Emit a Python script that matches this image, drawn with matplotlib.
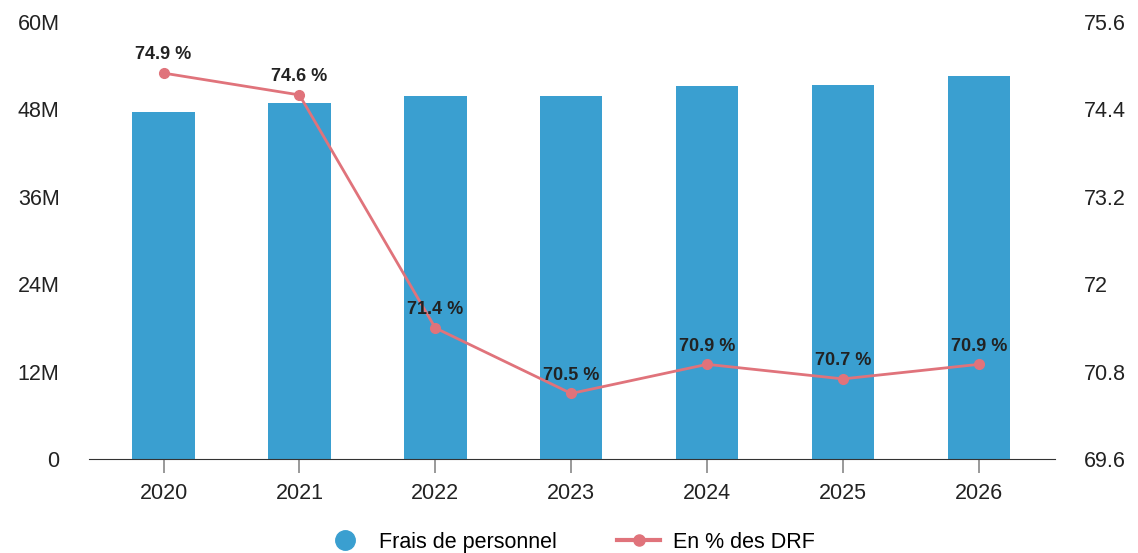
import matplotlib.pyplot as plt
from matplotlib.lines import Line2D

plt.rcParams['font.family'] = ['Liberation Sans', 'DejaVu Sans']

years = ['2020', '2021', '2022', '2023', '2024', '2025', '2026']
frais = [47.6e6, 48.9e6, 49.8e6, 49.8e6, 51.2e6, 51.3e6, 52.6e6]
pct_drf = [74.9, 74.6, 71.4, 70.5, 70.9, 70.7, 70.9]

bar_color = '#3a9fd0'
line_color = '#e0737b'

fig = plt.figure(figsize=(11.38, 5.53), dpi=100)
ax = fig.add_axes([0.078, 0.17, 0.849, 0.79])
x = list(range(len(years)))

ax.bar(x, frais, width=0.46, color=bar_color, zorder=2)
ax.set_ylim(0, 60e6)
ax.set_yticks([0, 12e6, 24e6, 36e6, 48e6, 60e6])
ax.set_yticklabels(['0', '12M', '24M', '36M', '48M', '60M'])
ax.set_xlim(-0.55, 6.56)
ax.set_xticks(x)
ax.set_xticklabels(years)
for s in ['top', 'right', 'left']:
    ax.spines[s].set_visible(False)
ax.spines['bottom'].set_color('#333333')
ax.tick_params(axis='y', length=0, pad=21, labelsize=15.5, labelcolor='#222222')
ax.tick_params(axis='x', length=10, width=1.2, color='#888888', pad=7, labelsize=15.5, labelcolor='#222222')

ax2 = ax.twinx()
ax2.plot(x, pct_drf, color=line_color, linewidth=2, marker='o', markersize=7, zorder=3)
ax2.set_ylim(69.6, 75.6)
ax2.set_yticks([69.6, 70.8, 72, 73.2, 74.4, 75.6])
ax2.set_yticklabels(['69.6', '70.8', '72', '73.2', '74.4', '75.6'])
for s in ['top', 'right', 'left', 'bottom']:
    ax2.spines[s].set_visible(False)
ax2.tick_params(axis='y', length=0, pad=21, labelsize=15.5, labelcolor='#222222')

for xi, v in zip(x, pct_drf):
    ax2.annotate(f'{v} %', (xi, v), xytext=(0, 7), textcoords='offset points',
                 ha='center', va='bottom', fontsize=13, fontweight='bold', color='#222222')

handles = [
    Line2D([], [], marker='o', linestyle='none', markersize=14, color=bar_color),
    Line2D([], [], marker='o', color=line_color, linewidth=3, markersize=8),
]
fig.legend(handles, ['Frais de personnel', 'En % des DRF'], loc='lower center',
           bbox_to_anchor=(0.5, -0.035), ncol=2, frameon=False, fontsize=15.5,
           columnspacing=2.8, handlelength=2, handletextpad=0.6)

fig.savefig('out.png', dpi=100)
